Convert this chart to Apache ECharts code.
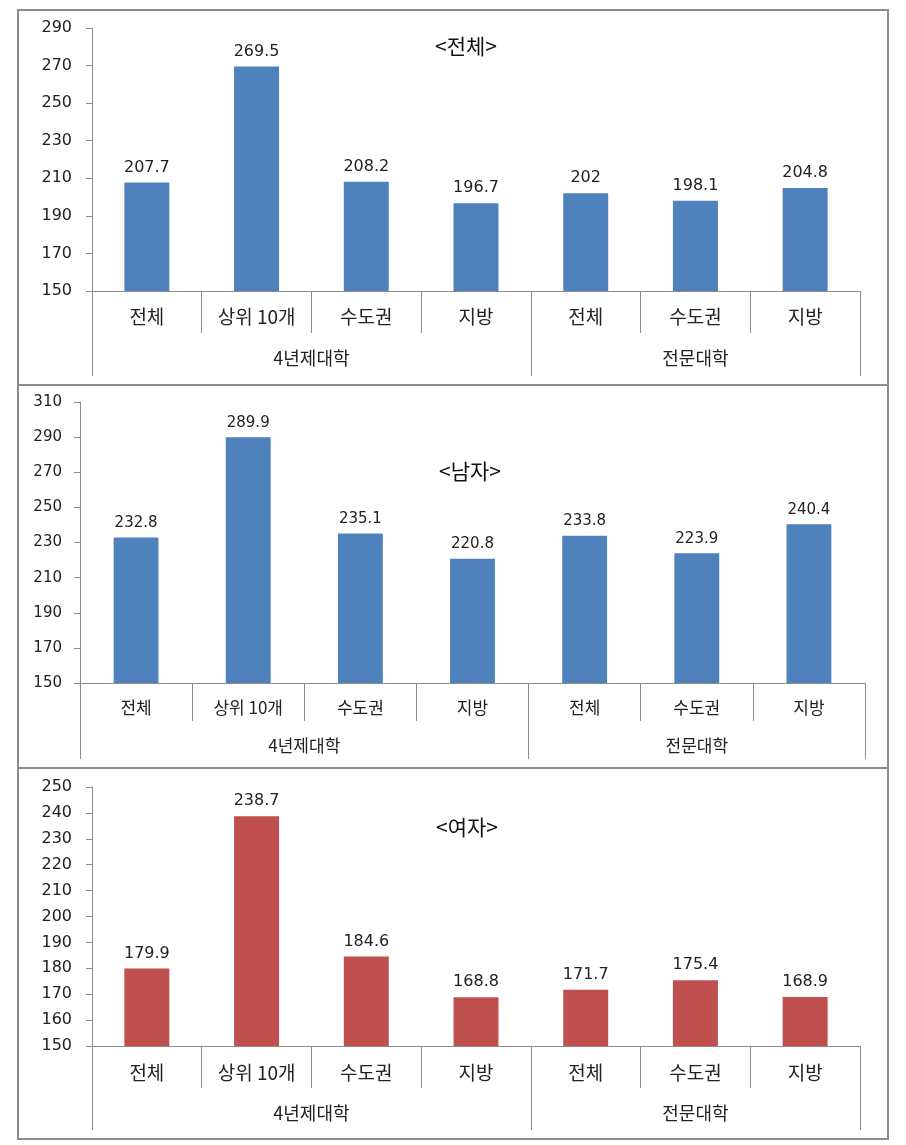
<!DOCTYPE html>
<html>
<head>
<meta charset="utf-8">
<script src="https://cdn.jsdelivr.net/npm/echarts@6/dist/echarts.min.js"></script>
<style>
html,body{margin:0;padding:0;background:#fff;}
#chart{width:906px;height:1145px;}
</style>
</head>
<body>
<div id="chart"></div>
<script>
var categories = ['전체', '상위 10개', '수도권', '지방', '전체', '수도권', '지방'];
var groups = ['4년제대학', '전문대학'];
var groupSizes = [4, 3];
var titles = ['<전체>', '<남자>', '<여자>'];
var totalValues = [207.7, 269.5, 208.2, 196.7, 202, 198.1, 204.8];
var maleValues = [232.8, 289.9, 235.1, 220.8, 233.8, 223.9, 240.4];
var femaleValues = [179.9, 238.7, 184.6, 168.8, 171.7, 175.4, 168.9];
var yRanges = [[150, 290, 20], [150, 310, 20], [150, 250, 10]];

var blue = '#4F81BD', red = '#C0504D', axisGray = '#8C8C8C', textColor = '#222';
var numFont = 'DejaVu Sans', krFont = 'Noto Sans CJK KR';

var bounds = [0], centers = [];
groupSizes.forEach(function (s, i) { bounds.push(bounds[i] + s); centers.push(bounds[i] + s / 2); });

var panels = [
  {grid: {left: 92, top: 28, width: 768, height: 263}, data: totalValues, color: blue,
   numSize: 16, catSize: 19, grpSize: 18, catTick: 42, grpTick: 85, catMargin: 16, grpMargin: 58, yMargin: 20, barW: '41%', labelDist: 7,
   title: {x: 466, y: 46}},
  {grid: {left: 80, top: 402, width: 785, height: 281}, data: maleValues, color: blue,
   numSize: 15, catSize: 17, grpSize: 17, catTick: 38, grpTick: 76, catMargin: 16, grpMargin: 54, yMargin: 18, barW: '40%', labelDist: 7,
   title: {x: 470, y: 471}},
  {grid: {left: 92, top: 787, width: 768, height: 259}, data: femaleValues, color: red,
   numSize: 16, catSize: 19, grpSize: 18, catTick: 42, grpTick: 84, catMargin: 17, grpMargin: 58, yMargin: 20, barW: '41%', labelDist: 7,
   title: {x: 467, y: 827}}
];

var option = {
  animation: false,
  backgroundColor: '#fff',
  grid: [], xAxis: [], yAxis: [], series: [], graphic: []
};

panels.forEach(function (p, i) {
  option.grid.push(p.grid);
  option.xAxis.push({
    type: 'category', gridIndex: i, data: categories, position: 'bottom',
    axisLine: {show: true, lineStyle: {color: axisGray, width: 1}},
    axisTick: {show: true, interval: 0, length: p.catTick, lineStyle: {color: axisGray}},
    axisLabel: {interval: 0, margin: p.catMargin, fontFamily: krFont, fontSize: p.catSize, color: textColor},
    splitLine: {show: false}
  });
  option.xAxis.push({
    type: 'value', gridIndex: i, min: 0, max: categories.length, position: 'bottom',
    axisLine: {show: false},
    axisTick: {show: true, customValues: bounds, length: p.grpTick, lineStyle: {color: axisGray}},
    axisLabel: {show: true, customValues: centers, margin: p.grpMargin, fontFamily: krFont, fontSize: p.grpSize, color: textColor,
      formatter: function (v) { var k = centers.indexOf(v); return k >= 0 ? groups[k] : ''; }},
    splitLine: {show: false}
  });
  option.yAxis.push({
    type: 'value', gridIndex: i, min: yRanges[i][0], max: yRanges[i][1], interval: yRanges[i][2],
    axisLine: {show: true, lineStyle: {color: axisGray}},
    axisTick: {show: true, length: 6, lineStyle: {color: axisGray}},
    axisLabel: {margin: p.yMargin, fontFamily: numFont, fontSize: p.numSize, color: textColor},
    splitLine: {show: false}
  });
  option.series.push({
    type: 'bar', xAxisIndex: i * 2, yAxisIndex: i, data: p.data, barWidth: p.barW,
    itemStyle: {color: p.color},
    label: {show: true, position: 'top', distance: p.labelDist, fontFamily: numFont, fontSize: p.numSize, color: textColor}
  });
  option.graphic.push({
    type: 'text', x: p.title.x, y: p.title.y,
    style: {text: titles[i], fontFamily: krFont, fontSize: 21, fill: '#111', align: 'center', verticalAlign: 'middle'}
  });
});

[[18, 10, 870, 375], [18, 385, 870, 383], [18, 768, 870, 371]].forEach(function (r) {
  option.graphic.push({type: 'rect', shape: {x: r[0], y: r[1], width: r[2], height: r[3]},
    style: {fill: 'none', stroke: axisGray, lineWidth: 2}, silent: true, z: 100});
});

var chart = echarts.init(document.getElementById('chart'), null, {renderer: 'canvas'});
chart.setOption(option);
</script>
</body>
</html>
